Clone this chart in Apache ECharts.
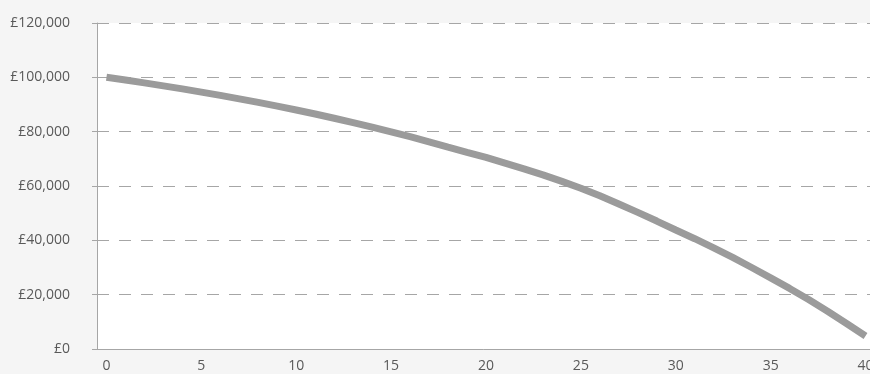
<!DOCTYPE html>
<html>
<head>
<meta charset="utf-8">
<script src="https://cdn.jsdelivr.net/npm/echarts@6/dist/echarts.min.js"></script>
<style>
  html, body { margin: 0; padding: 0; background: #f5f5f5; }
  #chart { width: 870px; height: 374px; }
</style>
</head>
<body>
<div id="chart"></div>
<script>
// years on the x axis
const years = [
  '0', '1', '2', '3', '4', '5', '6', '7', '8', '9', '10',
  '11', '12', '13', '14', '15', '16', '17', '18', '19', '20',
  '21', '22', '23', '24', '25', '26', '27', '28', '29', '30',
  '31', '32', '33', '34', '35', '36', '37', '38', '39', '40'
]
// outstanding balance
const balance = [
  100000, 99000, 97960, 96870, 95750, 94570, 93360, 92090, 90770, 89400, 87970,
  86490, 84950, 83340, 81680, 79940, 78140, 76260, 74310, 72400, 70500,
  68400, 66300, 64100, 61700, 59200, 56400, 53400, 50300, 47100, 43800,
  40600, 37200, 33700, 30000, 26200, 22300, 18200, 13900, 9400, 4800
]
const yTicks = [0, 20000, 40000, 60000, 80000, 100000, 120000]

const axisColor = '#a6a6a6'
const labelColor = '#595959'
const font = '"Open Sans", sans-serif'

const chart = echarts.init(document.getElementById('chart'))
chart.setOption({
  backgroundColor: '#f5f5f5',
  animation: false,
  grid: {
    show: true,
    backgroundColor: '#ffffff',
    borderWidth: 0,
    outerBoundsMode: 'none',
    containLabel: false,
    left: 97,
    top: 23,
    width: 778,
    height: 326
  },
  xAxis: {
    type: 'category',
    data: years,
    boundaryGap: true,
    axisLine: { lineStyle: { color: axisColor, width: 1 } },
    axisTick: { show: false },
    axisLabel: {
      interval: 4,
      margin: 10,
      color: labelColor,
      fontSize: 14,
      fontFamily: font
    },
    splitLine: { show: false }
  },
  yAxis: {
    type: 'value',
    min: yTicks[0],
    max: yTicks[yTicks.length - 1],
    interval: yTicks[1] - yTicks[0],
    axisLine: { show: true, lineStyle: { color: axisColor, width: 1 } },
    axisTick: { show: true, length: 5, lineStyle: { color: axisColor } },
    axisLabel: {
      margin: 27,
      color: labelColor,
      fontSize: 14,
      fontFamily: font,
      padding: [0, 0, 3, 0],
      formatter: (v) => '£' + v.toLocaleString('en-GB')
    },
    splitLine: {
      lineStyle: { color: axisColor, type: [12, 10], width: 1 }
    }
  },
  series: [
    {
      type: 'line',
      data: balance,
      showSymbol: false,
      smooth: false,
      lineStyle: { color: '#9b9b9b', width: 7, cap: 'butt' }
    }
  ]
})
</script>
</body>
</html>
